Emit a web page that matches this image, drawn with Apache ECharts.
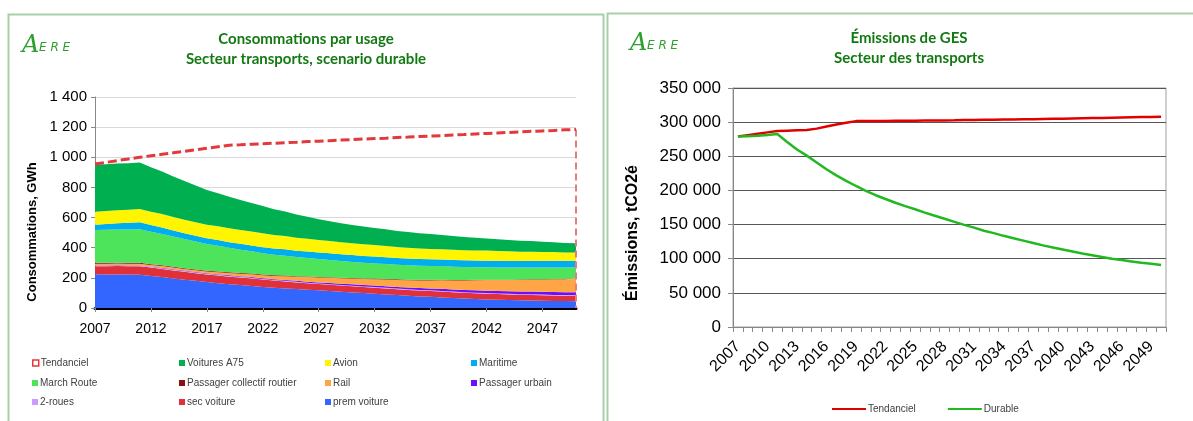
<!DOCTYPE html>
<html><head><meta charset="utf-8">
<script src="https://cdn.jsdelivr.net/npm/echarts@6/dist/echarts.min.js"></script>
<style>html,body{margin:0;padding:0;background:#fff}#c{width:1193px;height:421px}</style>
</head><body><div id="c"></div>
<script>
// ---------- DATA ----------
const years = [2007,2008,2009,2010,2011,2012,2013,2014,2015,2016,2017,2018,2019,2020,2021,2022,2023,2024,2025,2026,2027,2028,2029,2030,2031,2032,2033,2034,2035,2036,2037,2038,2039,2040,2041,2042,2043,2044,2045,2046,2047,2048,2049,2050];

// Left chart: consommations par usage (GWh), stacked bottom -> top
const premVoiture = [224,223,223,222,221,213,205,196,188,180,172,165,158,152,146,140,135,130,126,121,117,112,108,103,99,95,90,86,81,77,74,70,67,63,60,57,55,53,51,50,48,47,46,45];
const secVoiture = [53,54,55,55,56,55,54,53,52,51,50,50,50,50,50,49,47,46,44,43,42,42,41,41,40,40,40,39,39,39,39,39,38,38,38,38,38,37,37,37,37,36,36,36];
const deuxRoues = [5,5,5,5,5,5,5,5,5,5,5,5,5,5,5,4,4,4,4,4,4,4,4,4,4,4,4,4,4,4,4,4,4,4,4,4,4,4,4,4,4,4,4,4];
const passagerUrbain = [2,2,2,2,2,2,3,3,3,3,3,4,4,4,5,5,5,6,6,7,7,8,8,9,9,10,11,11,12,13,13,14,14,15,15,16,16,17,17,18,18,19,19,20];
const rail = [10,10,10,10,10,10,11,11,11,12,12,14,15,17,18,20,22,25,27,30,32,34,36,38,40,42,44,46,48,50,53,57,60,63,67,70,72,74,77,79,81,84,86,88];
const passagerCollectif = [6,6,6,6,6,6,6,6,5,5,5,5,5,5,5,5,5,5,4,4,4,4,4,4,4,4,4,4,4,4,4,4,3,3,3,3,3,3,3,3,3,3,3,3];
const marchRoute = [218,219,220,221,222,215,207,200,193,185,178,170,162,154,147,140,135,131,127,123,119,115,111,107,104,101,99,97,96,94,92,90,88,86,84,82,81,80,79,78,77,76,75,74];
const maritime = [35,38,41,44,47,45,43,41,39,38,37,38,38,39,39,40,41,42,42,43,44,44,45,45,45,45,45,44,44,44,44,44,44,44,44,44,44,44,44,44,44,44,44,44];
const avion = [86,86,87,87,88,88,89,89,90,90,91,91,92,92,93,93,91,89,86,84,82,81,80,79,78,77,75,73,71,69,69,68,68,68,67,67,65,64,62,61,59,58,56,55];
const voituresA75 = [312,311,310,309,308,295,282,269,256,243,230,220,209,199,189,180,171,162,154,146,138,132,126,121,117,113,110,107,105,102,99,95,91,87,84,80,78,75,73,70,68,65,63,60];
const tendancielConso = [955,966,978,989,1000,1010,1020,1030,1040,1050,1060,1070,1080,1083,1087,1090,1093,1097,1100,1104,1107,1110,1114,1117,1121,1124,1127,1131,1134,1138,1141,1144,1148,1151,1155,1158,1161,1165,1168,1172,1175,1178,1182,1185];

// Right chart: émissions de GES (tCO2e)
const tendancielGES = [279000,281000,283000,285000,287000,287500,288000,288500,290500,293500,296500,299000,301500,301500,301600,301800,302000,302100,302200,302300,302400,302500,302700,303000,303200,303400,303600,303800,304000,304200,304400,304600,304800,305000,305300,305600,305900,306200,306500,306800,307100,307400,307700,308000];
const durableGES = [279000,279500,280000,281000,282500,271000,260000,251000,241000,231000,222000,214000,206500,199500,193000,187500,182000,177000,172500,167500,163000,158500,154000,149500,145500,141000,137500,133500,130000,126500,123000,119500,116500,113500,110500,107500,105000,102500,100000,98000,96000,94000,92500,90800];

const leftYTicks = {min:0, max:1400, interval:200};
const rightYTicks = {min:0, max:350000, interval:50000};

const stackNames = ['prem voiture','sec voiture','2-roues','Passager urbain','Rail','Passager collectif routier','March Route','Maritime','Avion','Voitures A75'];
const stackData = [premVoiture,secVoiture,deuxRoues,passagerUrbain,rail,passagerCollectif,marchRoute,maritime,avion,voituresA75];

// ---------- STYLE ----------
const stackColors = ['#3366FF','#E0313A','#CC99FF','#6B0FFF','#FFA545','#8B1010','#4DE35A','#00AEEF','#FFF500','#00AF50'];
const colorOf = {}; stackNames.forEach((n,i)=>colorOf[n]=stackColors[i]);
const TEND_L = '#E3393C', TEND_R = '#E00000', DUR = '#22B822';
const FONT = '"Liberation Sans", Arial, sans-serif';
const TITLE_FONT = 'Lato, "Open Sans", sans-serif';
const TITLE_COLOR = '#137A13';
const LOGO_COLOR = '#2E9E2E';
function sp(v){return String(v).replace(/\B(?=(\d{3})+(?!\d))/g,' ');}

const legendRows = [
  ['Tendanciel','Voitures A75','Avion','Maritime'],
  ['March Route','Passager collectif routier','Rail','Passager urbain'],
  ['2-roues','sec voiture','prem voiture']
];
const legendColX = [32,179,325,471];
const legendRowY = [358,378,397];
const legends = [];
legendRows.forEach((row,r)=>row.forEach((name,c)=>{
  const item = name==='Tendanciel'
    ? {name, icon:'rect', itemStyle:{color:'#fff', borderColor:TEND_L, borderWidth:1.5}}
    : {name, icon:'rect', itemStyle:{color:colorOf[name]}};
  legends.push({left:legendColX[c], top:legendRowY[r], orient:'horizontal', selectedMode:false,
    itemWidth:6, itemHeight:6, itemGap:0, padding:0, data:[item],
    textStyle:{fontFamily:FONT, fontSize:10, color:'#404040', padding:[0,0,0,-3]}});
}));
legends.push({left:832, top:404, selectedMode:false, itemWidth:34, itemHeight:2, itemGap:32, padding:0,
  data:[{name:'Tendanciel', icon:'rect', itemStyle:{color:TEND_R}},{name:'Durable', icon:'rect', itemStyle:{color:DUR}}],
  textStyle:{fontFamily:FONT, fontSize:10, color:'#404040', padding:[0,0,0,-3]}});

function logo(x,y){
  return [
    {type:'text', x:x, y:y, style:{text:'A', font:'italic 24px "DejaVu Serif", serif', fill:LOGO_COLOR, align:'left', verticalAlign:'middle'}, silent:true},
    {type:'text', x:x+17, y:y+2, style:{text:'E R E', font:'italic 12px "DejaVu Sans", sans-serif', fill:LOGO_COLOR, align:'left', verticalAlign:'middle'}, silent:true}
  ];
}
function ttl(x,y,t){
  return {type:'text', x:x, y:y, style:{text:t, font:'bold 15px '+TITLE_FONT, fill:TITLE_COLOR, align:'center', verticalAlign:'middle'}, silent:true};
}

const series = stackNames.map((n,i)=>({
  name:n, type:'line', stack:'conso', xAxisIndex:0, yAxisIndex:0, data:stackData[i],
  symbol:'none', lineStyle:{width:0}, itemStyle:{color:stackColors[i]},
  areaStyle:{color:stackColors[i], opacity:1}, emphasis:{disabled:true}, z:2, animation:false
}));
series.push({
  name:'Tendanciel', type:'line', xAxisIndex:0, yAxisIndex:0, data:tendancielConso, symbol:'none',
  lineStyle:{color:TEND_L, width:3, type:[9,4]}, itemStyle:{color:TEND_L}, emphasis:{disabled:true}, z:5, animation:false,
  markLine:{symbol:'none', silent:true, animation:false, label:{show:false},
    lineStyle:{color:'#EA7A7E', width:2, type:[7,4]},
    data:[[{coord:[years.length-1, tendancielConso[tendancielConso.length-1]]},{coord:[years.length-1, 0]}]]}
});
series.push({name:'Tendanciel', type:'line', xAxisIndex:1, yAxisIndex:1, data:tendancielGES, symbol:'none',
  lineStyle:{color:TEND_R, width:2.5}, itemStyle:{color:TEND_R}, emphasis:{disabled:true}, z:4, animation:false});
series.push({name:'Durable', type:'line', xAxisIndex:1, yAxisIndex:1, data:durableGES, symbol:'none',
  lineStyle:{color:DUR, width:2.5}, itemStyle:{color:DUR}, emphasis:{disabled:true}, z:4, animation:false});

const option = {
  animation:false,
  backgroundColor:'#fff',
  grid:[
    {left:95, top:97, width:481, height:211, containLabel:false},
    {left:733, top:88, width:433, height:239, containLabel:false, show:true, borderColor:'#A0A0A0', borderWidth:1, backgroundColor:'transparent'}
  ],
  xAxis:[
    {type:'category', gridIndex:0, data:years, boundaryGap:false,
      axisLine:{lineStyle:{color:'#000', width:3}},
      axisTick:{show:true, interval:4, length:4, lineStyle:{color:'#888'}},
      axisLabel:{interval:4, fontFamily:FONT, fontSize:14, color:'#000', margin:14},
      splitLine:{show:false}},
    {type:'category', gridIndex:1, data:years, boundaryGap:true,
      axisLine:{lineStyle:{color:'#888', width:1}},
      axisTick:{show:true, interval:0, length:5, lineStyle:{color:'#888'}},
      axisLabel:{interval:2, rotate:45, fontFamily:FONT, fontSize:16, color:'#000', margin:17},
      splitLine:{show:false}}
  ],
  yAxis:[
    {type:'value', gridIndex:0, min:leftYTicks.min, max:leftYTicks.max, interval:leftYTicks.interval,
      axisLine:{show:true, lineStyle:{color:'#888'}},
      axisTick:{show:true, length:4, lineStyle:{color:'#888'}},
      axisLabel:{fontFamily:FONT, fontSize:15, color:'#000', margin:8, formatter:sp},
      splitLine:{lineStyle:{color:'#D9D9D9', width:1}}},
    {type:'value', gridIndex:1, min:rightYTicks.min, max:rightYTicks.max, interval:rightYTicks.interval,
      axisLine:{show:true, lineStyle:{color:'#888'}},
      axisTick:{show:true, length:5, lineStyle:{color:'#888'}},
      axisLabel:{fontFamily:FONT, fontSize:17, color:'#000', margin:12, formatter:sp},
      splitLine:{lineStyle:{color:'#555', width:1}}}
  ],
  legend:legends,
  series:series,
  graphic:[
    {type:'rect', shape:{x:8.5, y:14.5, width:595, height:440}, style:{fill:'none', stroke:'#A8CFA8', lineWidth:2}, silent:true},
    {type:'rect', shape:{x:607.5, y:13.5, width:620, height:440}, style:{fill:'none', stroke:'#A8CFA8', lineWidth:2}, silent:true},
    ttl(306,39,'Consommations par usage'),
    ttl(306,59,'Secteur transports, scenario durable'),
    ttl(909,38,'Émissions de GES'),
    ttl(909,58,'Secteur des transports'),
    ...logo(22,46),
    ...logo(630,44),
    {type:'text', x:32, y:232, rotation:Math.PI/2, style:{text:'Consommations, GWh', font:'bold 13px '+FONT, fill:'#000', align:'center', verticalAlign:'middle'}, silent:true},
    {type:'text', x:633, y:233, rotation:Math.PI/2, style:{text:'Émissions, tCO2é', font:'bold 16px '+FONT, fill:'#000', align:'center', verticalAlign:'middle'}, silent:true}
  ]
};
const chart = echarts.init(document.getElementById('c'), null, {renderer:'canvas', width:1193, height:421});
chart.setOption(option);
</script></body></html>
